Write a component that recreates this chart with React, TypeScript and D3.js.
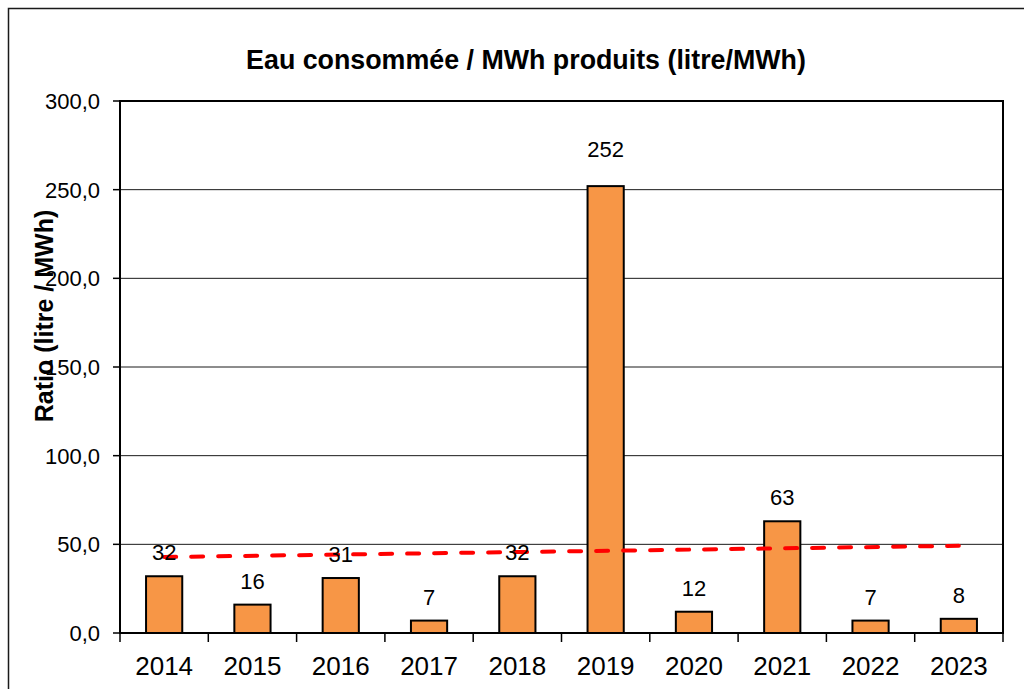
import React from 'react';
import * as d3 from 'd3';

const years = ['2014', '2015', '2016', '2017', '2018', '2019', '2020', '2021', '2022', '2023'];
const ratios = [32, 16, 31, 7, 32, 252, 12, 63, 7, 8];
const yTicks = [0, 50, 100, 150, 200, 250, 300];
const chartTitle = 'Eau consommée / MWh produits (litre/MWh)';
const yAxisTitle = 'Ratio (litre / MWh)';

const FONT = '"Liberation Sans", Arial, Helvetica, sans-serif';

export default function App() {
  const W = 1024;
  const H = 689;
  const left = 120, top = 101, right = 1003, bottom = 633;

  const x = d3.scaleBand<string>().domain(years).range([left, right]).paddingInner(0.59).paddingOuter(0.295);
  const step = (right - left) / years.length;
  const y = d3.scaleLinear().domain([0, 300]).range([bottom, top]);

  const locale = d3.formatLocale({ decimal: ',', thousands: ' ', grouping: [3], currency: ['', ' €'] });
  const tickFmt = locale.format('.1f');
  const labelFmt = locale.format('.0f');

  // linear trend (least squares) of the series
  const n = ratios.length;
  const xs = ratios.map((_, i) => i);
  const mx = d3.mean(xs) as number;
  const my = d3.mean(ratios) as number;
  const sxy = d3.sum(xs.map((xi, i) => (xi - mx) * (ratios[i] - my)));
  const sxx = d3.sum(xs.map((xi) => (xi - mx) * (xi - mx)));
  const slope = sxy / sxx;
  const intercept = my - slope * mx;
  const trendPts: [number, number][] = [0, n - 1].map((i) => [
    (x(years[i]) as number) + x.bandwidth() / 2,
    y(intercept + slope * i),
  ]);
  const trendLine = d3.line()(trendPts) as string;

  const bw = x.bandwidth();
  const maxV = d3.max(ratios) as number;

  return (
    <svg width={W} height={H} style={{ position: 'absolute', left: 0, top: 0, background: '#fff' }} fontFamily={FONT}>
      <rect x={0} y={0} width={W} height={H} fill="#fff" />
      {/* outer chart frame */}
      <rect x={8.5} y={8.5} width={1100} height={800} fill="none" stroke="#1a1a1a" strokeWidth={1.5} />

      {/* title */}
      <text x={526} y={69} textAnchor="middle" fontSize={26.8} fontWeight="bold" fill="#000">
        {chartTitle}
      </text>

      {/* gridlines */}
      {yTicks.map((t) => (
        <line key={'g' + t} x1={left} x2={right} y1={y(t)} y2={y(t)} stroke="#1a1a1a" strokeWidth={1} />
      ))}

      {/* bars */}
      {ratios.map((v, i) => (
        <rect
          key={'b' + i}
          x={(x(years[i]) as number)}
          y={y(v)}
          width={bw}
          height={bottom - y(v)}
          fill="#F79646"
          stroke="#000"
          strokeWidth={2}
        />
      ))}

      {/* plot border */}
      <rect x={left} y={top} width={right - left} height={bottom - top} fill="none" stroke="#000" strokeWidth={2} />

      {/* y ticks */}
      {yTicks.map((t) => (
        <g key={'yt' + t}>
          <line x1={left - 7} x2={left} y1={y(t)} y2={y(t)} stroke="#000" strokeWidth={1.5} />
          <text x={100} y={y(t)} dy="0.36em" textAnchor="end" fontSize={22} fill="#000">
            {tickFmt(t)}
          </text>
        </g>
      ))}

      {/* x ticks */}
      {d3.range(years.length + 1).map((i) => (
        <line key={'xt' + i} x1={left + i * step} x2={left + i * step} y1={bottom} y2={bottom + 9} stroke="#000" strokeWidth={1.5} />
      ))}
      {years.map((yr) => (
        <text key={'xl' + yr} x={(x(yr) as number) + bw / 2} y={675} textAnchor="middle" fontSize={26} fill="#000">
          {yr}
        </text>
      ))}

      {/* trend line */}
      <path d={trendLine} fill="none" stroke="#FF0000" strokeWidth={4} strokeDasharray="12 15" strokeLinecap="round" />

      {/* data labels */}
      {ratios.map((v, i) => (
        <text
          key={'l' + i}
          x={(x(years[i]) as number) + bw / 2}
          y={y(v) - (v === maxV ? 29 : 16)}
          textAnchor="middle"
          fontSize={22}
          fill="#000"
        >
          {labelFmt(v)}
        </text>
      ))}

      {/* y axis title */}
      <text
        transform={`translate(53,316) rotate(-90)`}
        textAnchor="middle"
        fontSize={25}
        fontWeight="bold"
        fill="#000"
      >
        {yAxisTitle}
      </text>
    </svg>
  );
}
